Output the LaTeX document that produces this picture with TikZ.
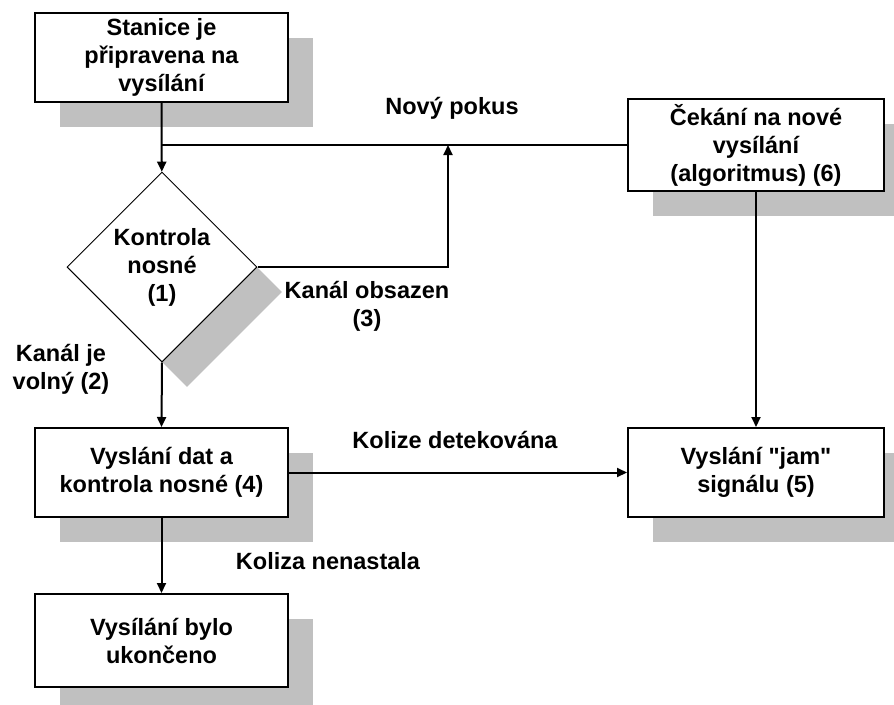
\documentclass[tikz,border=0pt]{standalone}
\usepackage{fontspec}
\setmainfont{Liberation Sans}
\usetikzlibrary{shapes.geometric, arrows.meta, shadows}
\definecolor{shadowgray}{RGB}{192,192,192}

\tikzset{
    >={Triangle[length=10pt,width=9pt]},
    flowtext/.style={font=\fontsize{23.5}{28}\selectfont\bfseries, align=center},
    boxshadow/.style={drop shadow={shadow xshift=25pt, shadow yshift=-25pt, fill=shadowgray, opacity=1}},
    stepbox/.style={draw, line width=2pt, fill=white, minimum width=253pt, minimum height=89pt, inner sep=0pt, flowtext, boxshadow},
    decision/.style={diamond, draw, line width=1pt, fill=white, minimum width=190pt, minimum height=190pt, inner sep=0pt, flowtext, boxshadow},
    flow/.style={line width=2pt}
}

\begin{document}
\begin{tikzpicture}[x=1pt, y=-1pt]
    \clip (0,0) rectangle (894,704);

    % boxes
    \node[stepbox] (ready) at (161.5,57.5) {Stanice je\\připravena na\\vysílání};
    \node[decision] (check) at (162,267) {Kontrola\\nosné\\(1)};
    \node[stepbox, minimum width=256pt, minimum height=92pt] (wait) at (756,145) {Čekání na nové\\vysílání\\(algoritmus) (6)};
    \node[stepbox] (send) at (161.5,472.5) {Vyslání dat a\\kontrola nosné (4)};
    \node[stepbox, minimum width=256pt] (jam) at (756,472.5) {Vyslání \textquotedbl jam\textquotedbl\\signálu (5)};
    \node[stepbox, minimum height=93pt] (done) at (161.5,640.5) {Vysílání bylo\\ukončeno};

    % join points
    \coordinate (join) at (162,145);
    \coordinate (retry) at (448,145);

    % connectors
    \draw[flow, ->] (ready) -- (check);
    \draw[flow] (wait.west) -- (join);
    \draw[flow, ->] (check.east) -| (retry);
    \draw[flow, ->] (wait.south) -- (jam.north);
    \draw[flow, ->] (check.south) -- (send.north);
    \draw[flow, ->] (send.east) -- (jam.west);
    \draw[flow, ->] (send.south) -- (done.north);

    % labels
    \node[flowtext] (newtry) at (452,108) {Nový pokus};
    \node[flowtext] (busy) at (367,306) {Kanál obsazen\\(3)};
    \node[flowtext] (free) at (61,369) {Kanál je\\volný (2)};
    \node[flowtext] (collision) at (455,440) {Kolize detekována};
    \node[flowtext] (nocollision) at (328,561) {Koliza nenastala};
\end{tikzpicture}
\end{document}
